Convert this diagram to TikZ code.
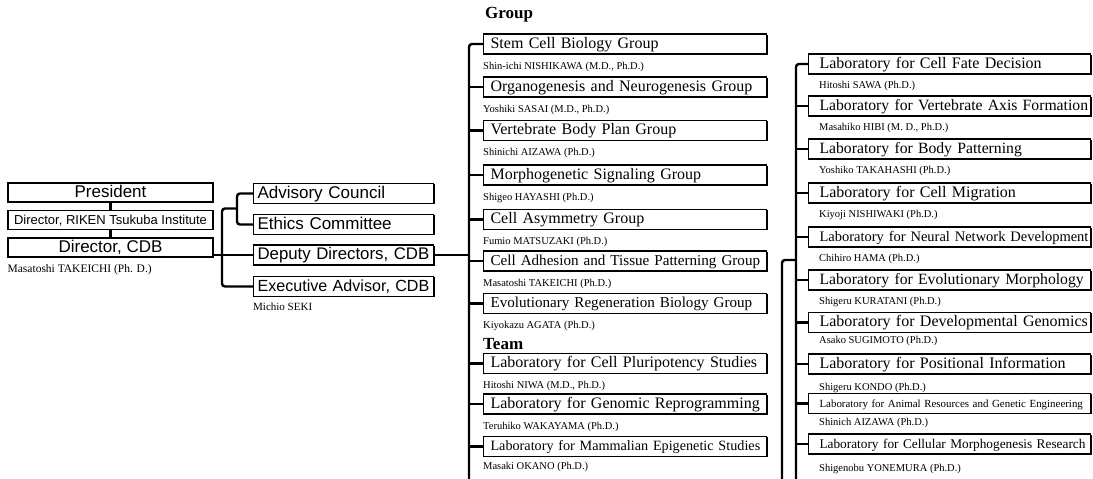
\documentclass[tikz,border=0pt]{standalone}
\usepackage{fontspec}
\setmainfont{Liberation Serif}
\setsansfont{Liberation Sans}
\usetikzlibrary{positioning,shadows}

\begin{document}
\begin{tikzpicture}[x=1pt,y=-1pt,
    link/.style={line width=2.4pt,rounded corners=3pt},
    fs/.style={font=\fontsize{#1}{#1}\selectfont},
    sfs/.style={font=\sffamily\fontsize{#1}{#1}\selectfont},
    indent/.style={execute at begin node={\hspace*{#1}\hbox\bgroup},
      execute at end node={\egroup}},
    box/.style={draw,line width=1.1pt,fill=white,
      drop shadow={shadow xshift=1.2pt,shadow yshift=-0.6pt,opacity=1,fill=black}},
    office node/.style={box,sfs=17,
      minimum height=19pt,inner ysep=2pt,text height=12pt,text depth=3pt},
    top node/.style={office node,minimum width=205pt},
    side node/.style={office node,anchor=west,text width=176pt,inner xsep=2pt,
      align=left,minimum height=20pt,indent=2pt},
    lab node/.style={box,anchor=west,align=left,minimum height=20pt,inner ysep=2.5pt,
      inner xsep=2pt,text height=11.5pt,text depth=3.5pt,fs=16},
    mid node/.style={lab node,text width=279pt,indent=5pt},
    right node/.style={lab node,text width=278pt,indent=9pt},
    name node/.style={inner sep=0pt,text height=7.5pt,text depth=2.5pt,fs=10.5},
    head node/.style={anchor=base west,inner sep=0pt,font=\bfseries\fontsize{17}{20}\selectfont}]

    \useasboundingbox (0,0) rectangle (1093,479);

    \node[top node] (pres) at (110.5,192.5) {President};
    \node[top node,sfs=13] (riken) at (110.5,220) {Director, RIKEN Tsukuba Institute};
    \node[top node] (dir) at (110.5,247.5) {Director, CDB};
    \node[name node,fs=11.5,below right=7pt and 0pt of dir.south west] (ndir)
      {Masatoshi TAKEICHI (Ph. D.)};

    \node[side node] (adv) at (253,193.5) {Advisory Council};
    \node[side node] (eth) at (253,224.5) {Ethics Committee};
    \node[side node,sfs=16.8] (dep) at (253,255) {Deputy Directors, CDB};
    \node[side node,sfs=16.1] (exe) at (253,286.5) {Executive Advisor, CDB};
    \node[name node,fs=11,below right=6pt and 0pt of exe.south west] (nexe) {Michio SEKI};

    \node[head node] (group) at (485,19) {Group};
    \node[mid node] (g1) at (483,44) {Stem Cell Biology Group};
    \node[mid node] (g2) at (483,87) {Organogenesis and Neurogenesis Group};
    \node[mid node] (g3) at (483,130.5) {Vertebrate Body Plan Group};
    \node[mid node] (g4) at (483,175) {Morphogenetic Signaling Group};
    \node[mid node] (g5) at (483,219.5) {Cell Asymmetry Group};
    \node[mid node,fs=15.1] (g6) at (483,261) {Cell Adhesion and Tissue Patterning Group};
    \node[mid node,fs=15.1] (g7) at (483,303.5) {Evolutionary Regeneration Biology Group};
    \node[head node] (team) at (483,349) {Team};
    \node[mid node] (t1) at (483,363.5) {Laboratory for Cell Pluripotency Studies};
    \node[mid node] (t2) at (483,404) {Laboratory for Genomic Reprogramming};
    \node[mid node,fs=14.2] (t3) at (483,446.5) {Laboratory for Mammalian Epigenetic Studies};

    \node[name node,below right=7pt and 0pt of g1.south west] (ng1) {Shin-ichi NISHIKAWA (M.D., Ph.D.)};
    \node[name node,below right=7pt and 0pt of g2.south west] (ng2) {Yoshiki SASAI (M.D., Ph.D.)};
    \node[name node,below right=7pt and 0pt of g3.south west] (ng3) {Shinichi AIZAWA (Ph.D.)};
    \node[name node,below right=7pt and 0pt of g4.south west] (ng4) {Shigeo HAYASHI (Ph.D.)};
    \node[name node,below right=7pt and 0pt of g5.south west] (ng5) {Fumio MATSUZAKI (Ph.D.)};
    \node[name node,below right=7pt and 0pt of g6.south west] (ng6) {Masatoshi TAKEICHI (Ph.D.)};
    \node[name node,below right=7pt and 0pt of g7.south west] (ng7) {Kiyokazu AGATA (Ph.D.)};
    \node[name node,below right=7pt and 0pt of t1.south west] (nt1) {Hitoshi NIWA (M.D., Ph.D.)};
    \node[name node,below right=7pt and 0pt of t2.south west] (nt2) {Teruhiko WAKAYAMA (Ph.D.)};
    \node[name node,below right=5pt and 0pt of t3.south west] (nt3) {Masaki OKANO (Ph.D.)};

    \node[right node] (l1) at (808,64) {Laboratory for Cell Fate Decision};
    \node[right node,fs=15.7] (l2) at (808,106) {Laboratory for Vertebrate Axis Formation};
    \node[right node,fs=15.7] (l3) at (808,149) {Laboratory for Body Patterning};
    \node[right node] (l4) at (808,193) {Laboratory for Cell Migration};
    \node[right node,fs=14.5] (l5) at (808,237) {Laboratory for Neural Network Development};
    \node[right node,fs=15.7] (l6) at (808,280) {Laboratory for Evolutionary Morphology};
    \node[right node] (l7) at (808,322.5) {Laboratory for Developmental Genomics};
    \node[right node] (l8) at (808,364) {Laboratory for Positional Information};
    \node[right node,fs=10.9] (l9) at (808,403.5) {Laboratory for Animal Resources and Genetic Engineering};
    \node[right node,fs=13.3] (l10) at (808,444) {Laboratory for Cellular Morphogenesis Research};

    \node[name node,below right=6pt and 11pt of l1.south west] (nl1) {Hitoshi SAWA (Ph.D.)};
    \node[name node,below right=6pt and 11pt of l2.south west] (nl2) {Masahiko HIBI (M. D., Ph.D.)};
    \node[name node,below right=6pt and 11pt of l3.south west] (nl3) {Yoshiko TAKAHASHI (Ph.D.)};
    \node[name node,below right=6pt and 11pt of l4.south west] (nl4) {Kiyoji NISHIWAKI (Ph.D.)};
    \node[name node,below right=6pt and 11pt of l5.south west] (nl5) {Chihiro HAMA (Ph.D.)};
    \node[name node,below right=6pt and 11pt of l6.south west] (nl6) {Shigeru KURATANI (Ph.D.)};
    \node[name node,below right=3pt and 11pt of l7.south west] (nl7) {Asako SUGIMOTO (Ph.D.)};
    \node[name node,below right=8pt and 11pt of l8.south west] (nl8) {Shigeru KONDO (Ph.D.)};
    \node[name node,below right=4pt and 11pt of l9.south west] (nl9) {Shinich AIZAWA (Ph.D.)};
    \node[name node,below right=9pt and 11pt of l10.south west] (nl10) {Shigenobu YONEMURA (Ph.D.)};

    \coordinate (lspine) at (222,0);
    \coordinate (lknee) at (237,208.5);
    \coordinate (mspine) at (469,479);
    \coordinate (rspine) at (796,479);
    \coordinate (rfork) at (796,260);
    \coordinate (rbranch) at (782,479);

    \draw[link] (pres) -- (riken) -- (dir);
    \draw[link] (dep.west) -- (dep.west -| dir.east);
    \draw[link] (adv.west) -| (lknee |- eth.west) -- (eth.west);
    \draw[link] (lknee) -| (lspine |- exe.west) -- (exe.west);
    \draw[link] (dep.east) -- (dep.east -| mspine);

    \draw[link] (mspine) |- (g1.west);
    \path[link]
      (g2.west) edge (g2.west -| mspine)
      (g3.west) edge (g3.west -| mspine)
      (g4.west) edge (g4.west -| mspine)
      (g5.west) edge (g5.west -| mspine)
      (g6.west) edge (g6.west -| mspine)
      (g7.west) edge (g7.west -| mspine)
      (t1.west) edge (t1.west -| mspine)
      (t2.west) edge (t2.west -| mspine)
      (t3.west) edge (t3.west -| mspine);

    \draw[link] (rspine) |- (l1.west);
    \draw[link] (rbranch) |- (rfork);
    \path[link]
      (l2.west) edge (l2.west -| rspine)
      (l3.west) edge (l3.west -| rspine)
      (l4.west) edge (l4.west -| rspine)
      (l5.west) edge (l5.west -| rspine)
      (l6.west) edge (l6.west -| rspine)
      (l7.west) edge (l7.west -| rspine)
      (l8.west) edge (l8.west -| rspine)
      (l9.west) edge (l9.west -| rspine)
      (l10.west) edge (l10.west -| rspine);
\end{tikzpicture}
\end{document}
